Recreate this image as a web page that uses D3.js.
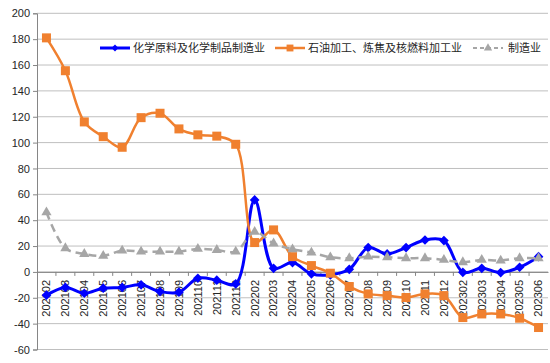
<!DOCTYPE html>
<html>
<head>
<meta charset="utf-8">
<script src="https://cdn.jsdelivr.net/npm/d3@7"></script>
<style>
  body { margin: 0; background: #fff; }
  svg text { font-family: "Liberation Sans", Arial, "Noto Sans CJK SC", sans-serif; }
</style>
</head>
<body>
<div id="chart"></div>
<script>
// months (no January in the source data)
const months = ["202102","202103","202104","202105","202106","202107","202108","202109","202110","202111","202112",
  "202202","202203","202204","202205","202206","202207","202208","202209","202210","202211","202212",
  "202302","202303","202304","202305","202306"];

const seriesNames = ["化学原料及化学制品制造业", "石油加工、炼焦及核燃料加工业", "制造业"];

const chemical = [-18, -12, -16.5, -12.6, -12, -10, -15.2, -15.7, -4.9, -6.4, -9.3,
  55.7, 2.8, 7.2, -1.5, -2.3, 2, 18.8, 13.9, 18.8, 24.7, 24.2,
  -0.3, 2.8, -0.5, 3.6, 11.8];

const petroleum = [181, 155.6, 116, 104.6, 96.4, 119.3, 122.7, 110.6, 106, 105, 98.7,
  22.7, 32.5, 11.8, 4.9, -1, -11.3, -17, -18.3, -19.8, -17, -18.3,
  -35.3, -32.5, -32.5, -35.8, -43];

const manufacturing = [46.1, 18.3, 13.9, 12.4, 16.5, 15.7, 15.7, 15.7, 17.8, 17, 15.7,
  31, 22, 17.5, 15, 11.3, 10.6, 11.8, 11.3, 10.6, 10.6, 9.3,
  7.5, 9.3, 8.8, 10.6, 10.6];

const yTicks = d3.range(-60, 201, 20);

const width = 550, height = 363;
const svg = d3.select("#chart").append("svg").attr("width", width).attr("height", height);

const x = d3.scaleBand().domain(months).range([37, 548]);
const y = d3.scaleLinear().domain([-60, 200]).range([349.5, 13.3]);
const cx = d => x(d) + x.bandwidth() / 2;

// gridlines
svg.append("g").selectAll("line").data(yTicks).join("line")
  .attr("x1", 37).attr("x2", 548)
  .attr("y1", d => y(d)).attr("y2", d => y(d))
  .attr("stroke", "#bfbfbf").attr("stroke-width", 1);

// y axis
const yAxis = svg.append("g").attr("transform", "translate(37,0)")
  .call(d3.axisLeft(y).tickValues(yTicks).tickSize(4).tickPadding(3).tickFormat(d => String(d)));
yAxis.select(".domain").attr("stroke", "#868686");
yAxis.selectAll(".tick line").attr("stroke", "#868686");
yAxis.selectAll("text").attr("font-size", 11).attr("fill", "#262626");

// x axis at zero
const xAxis = svg.append("g").attr("transform", `translate(0,${y(0)})`)
  .call(d3.axisBottom(x).tickSize(0).tickPadding(0));
xAxis.select(".domain").attr("stroke", "#868686");
xAxis.selectAll("text")
  .attr("font-size", 11).attr("fill", "#262626")
  .attr("text-anchor", "end")
  .attr("transform", "translate(0,8) rotate(-90)")
  .attr("dy", "0.35em").attr("x", 0).attr("y", 0);
// tick marks between categories
svg.append("g").selectAll("line").data(months.slice(1)).join("line")
  .attr("x1", d => x(d)).attr("x2", d => x(d))
  .attr("y1", y(0)).attr("y2", y(0) + 4)
  .attr("stroke", "#868686");

const line = d3.line().x((d, i) => cx(months[i])).y(d => y(d)).curve(d3.curveCatmullRom);

// chemical (blue)
svg.append("path").datum(chemical).attr("d", line)
  .attr("fill", "none").attr("stroke", "#0000ff").attr("stroke-width", 3);
svg.append("g").selectAll("path").data(chemical).join("path")
  .attr("d", d3.symbol(d3.symbolDiamond2, 60))
  .attr("transform", (d, i) => `translate(${cx(months[i])},${y(d)})`)
  .attr("fill", "#0000ff");

// petroleum (orange)
svg.append("path").datum(petroleum).attr("d", line)
  .attr("fill", "none").attr("stroke", "#f0802f").attr("stroke-width", 2.5);
svg.append("g").selectAll("rect").data(petroleum).join("rect")
  .attr("x", (d, i) => cx(months[i]) - 4.5).attr("y", d => y(d) - 4.5)
  .attr("width", 9).attr("height", 9)
  .attr("fill", "#f0802f");

// manufacturing (gray dashed)
svg.append("path").datum(manufacturing).attr("d", line)
  .attr("fill", "none").attr("stroke", "#a6a6a6").attr("stroke-width", 2.5)
  .attr("stroke-dasharray", "8,5");
svg.append("g").selectAll("path").data(manufacturing).join("path")
  .attr("d", d3.symbol(d3.symbolTriangle, 45))
  .attr("transform", (d, i) => `translate(${cx(months[i])},${y(d)})`)
  .attr("fill", "#a6a6a6");

// legend
const legendY = 48;
const legendItems = [
  {name: seriesNames[0], x0: 100, len: 30, color: "#0000ff", w: 3, dash: null, mark: "diamond"},
  {name: seriesNames[1], x0: 275, len: 30, color: "#f0802f", w: 2.5, dash: null, mark: "square"},
  {name: seriesNames[2], x0: 473, len: 30, color: "#a6a6a6", w: 2, dash: "4,3", mark: "triangle"}
];
const lg = svg.append("g").selectAll("g").data(legendItems).join("g")
  .attr("transform", d => `translate(${d.x0},${legendY})`);
lg.append("line").attr("x1", 0).attr("x2", d => d.len).attr("y1", 0).attr("y2", 0)
  .attr("stroke", d => d.color).attr("stroke-width", d => d.w)
  .attr("stroke-dasharray", d => d.dash);
lg.append("path")
  .attr("d", d => d.mark === "diamond" ? d3.symbol(d3.symbolDiamond2, 30)()
    : d.mark === "square" ? d3.symbol(d3.symbolSquare2, 60)()
    : d3.symbol(d3.symbolTriangle, 30)())
  .attr("transform", d => `translate(${d.len / 2},0)`)
  .attr("fill", d => d.color);
lg.append("text").attr("x", d => d.len + 3 + (d.mark === "triangle" ? 2 : 0)).attr("y", 0).attr("dy", "0.35em")
  .attr("font-size", 11).attr("fill", "#262626")
  .text(d => d.name);
</script>
</body>
</html>
